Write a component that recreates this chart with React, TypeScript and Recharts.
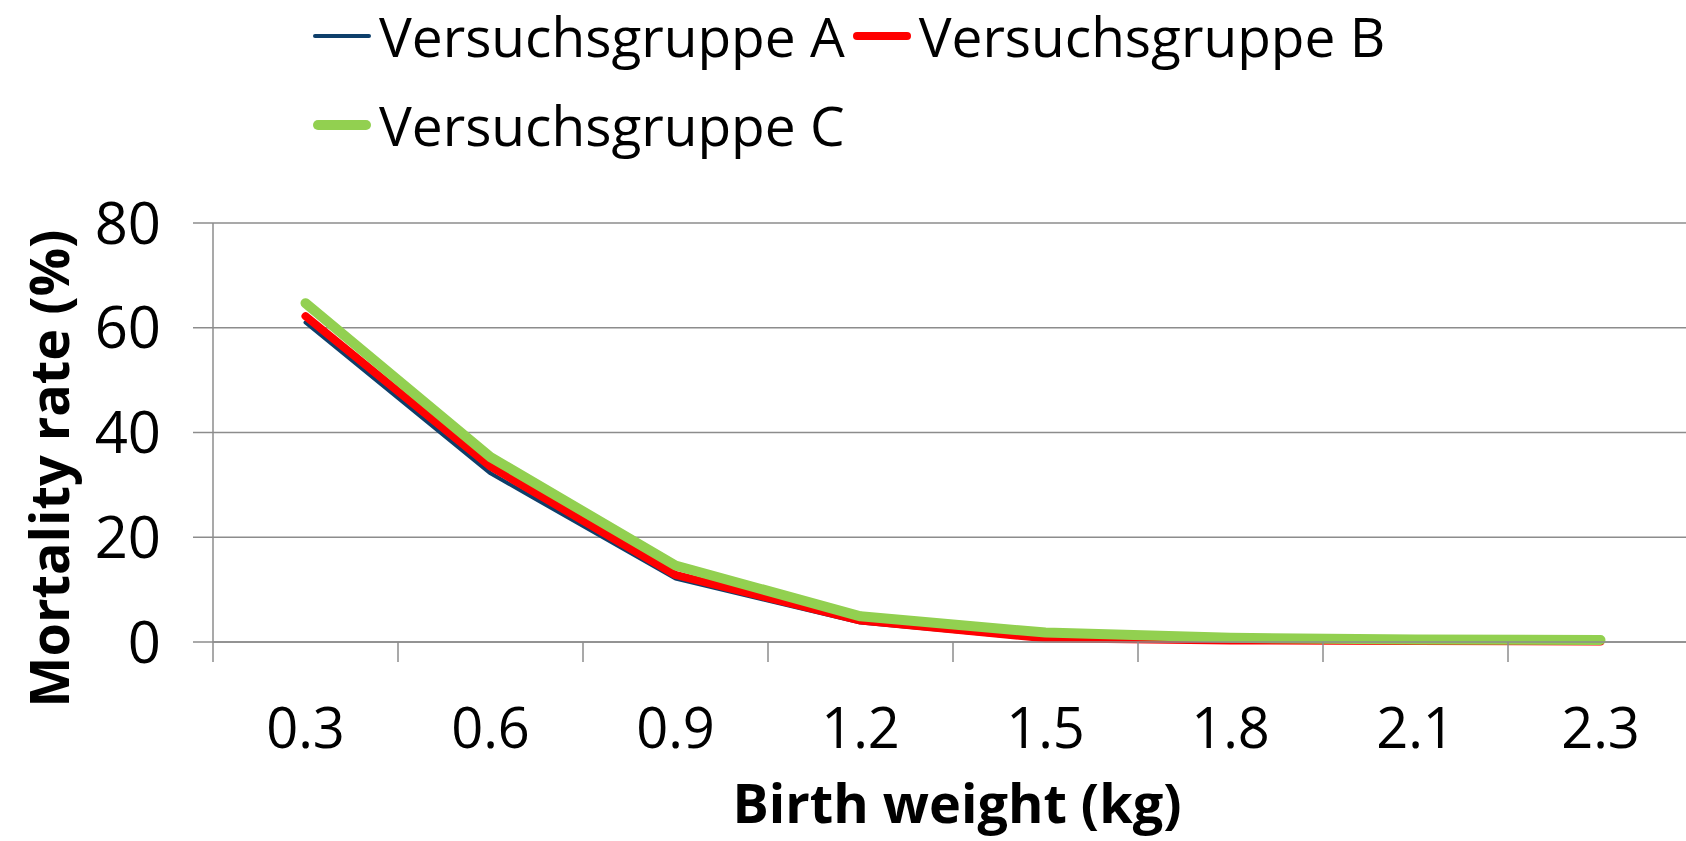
import { LineChart, Line, XAxis, YAxis, CartesianGrid, Legend, Label } from "recharts"

const weights = ["0.3", "0.6", "0.9", "1.2", "1.5", "1.8", "2.1", "2.3"]
const groupA = [61, 32.2, 12.1, 3.7, 0.5, 0.2, 0.1, 0.1]
const groupB = [62.2, 33.5, 12.8, 4.1, 0.7, 0.3, 0.2, 0.1]
const groupC = [64.7, 35.3, 14.6, 4.9, 1.8, 0.8, 0.5, 0.4]
const yTicks = [0, 20, 40, 60, 80]

const SERIES = [
  { key: "a", name: "Versuchsgruppe A", color: "#0e3f6b", width: 4 },
  { key: "b", name: "Versuchsgruppe B", color: "#ff0000", width: 8 },
  { key: "c", name: "Versuchsgruppe C", color: "#92d050", width: 10 },
]

const data = weights.map((w, i) => ({
  idx: i + 0.5,
  label: w,
  a: groupA[i],
  b: groupB[i],
  c: groupC[i],
}))

const W = 1686
const H = 841
const MARGIN = { top: 223, right: -7, left: 0, bottom: 0 }
const Y_AXIS_W = 213
const PLOT_W = W - MARGIN.left - MARGIN.right - Y_AXIS_W
const HALF_CAT = PLOT_W / weights.length / 2
const FONT = "'Open Sans', sans-serif"
const GRID = "#8c8c8c"

function XTick({ x, y, index }: any) {
  if (index >= weights.length) return null
  return (
    <text x={x + HALF_CAT} y={y + 62} textAnchor="middle" dominantBaseline="central" fontSize={56} fontFamily={FONT} fill="#000">
      {weights[index]}
    </text>
  )
}

function LegendContent() {
  return (
    <div style={{ display: "flex", flexWrap: "wrap", width: 1150, fontFamily: FONT, fontSize: 55, lineHeight: "89px" }}>
      {SERIES.map((s) => (
        <div key={s.key} style={{ display: "flex", alignItems: "center", marginRight: 6 }}>
          <svg width={62} height={20} style={{ marginRight: 6 }}>
            <line x1={s.width / 2 + 2} y1={10} x2={60 - s.width / 2} y2={10} stroke={s.color} strokeWidth={s.width} strokeLinecap="round" />
          </svg>
          <span style={{ color: "#000" }}>{s.name}</span>
        </div>
      ))}
    </div>
  )
}

export default function App() {
  return (
    <div style={{ position: "fixed", top: 0, left: 0, background: "#fff" }}>
      <LineChart width={W} height={H} data={data} margin={MARGIN}>
        <CartesianGrid vertical={false} stroke={GRID} strokeWidth={1.5} />
        <XAxis
          dataKey="idx"
          type="number"
          domain={[0, weights.length]}
          ticks={weights.map((_, i) => i).concat(weights.length)}
          interval={0}
          height={199}
          stroke={GRID}
          strokeWidth={1.5}
          tickSize={20}
          tick={<XTick />}
        >
          <Label
            content={({ viewBox }: any) => (
              <text x={viewBox.x + viewBox.width / 2 + 4} y={viewBox.y + 160} textAnchor="middle" dominantBaseline="central" fontSize={54} fontWeight="bold" fontFamily={FONT} fill="#000">
                Birth weight (kg)
              </text>
            )}
          />
        </XAxis>
        <YAxis
          domain={[0, 80]}
          ticks={yTicks}
          width={Y_AXIS_W}
          stroke={GRID}
          strokeWidth={1.5}
          tickSize={20}
          tickMargin={32}
          tick={{ fontSize: 58, fontFamily: FONT, fill: "#000" }}
        >
          <Label
            content={({ viewBox }: any) => {
              const cx = 48
              const cy = viewBox.y + viewBox.height / 2 + 36
              return (
                <text x={cx} y={cy} transform={`rotate(-90 ${cx} ${cy})`} textAnchor="middle" dominantBaseline="central" fontSize={54} fontWeight="bold" fontFamily={FONT} fill="#000">
                  Mortality rate (%)
                </text>
              )
            }}
          />
        </YAxis>
        <Legend
          layout="horizontal"
          verticalAlign="middle"
          align="center"
          content={<LegendContent />}
          wrapperStyle={{ top: -9, left: 311, width: 1150 }}
        />
        {SERIES.map((s) => (
          <Line
            key={s.key}
            dataKey={s.key}
            name={s.name}
            stroke={s.color}
            strokeWidth={s.width}
            strokeLinecap="round"
            strokeLinejoin="round"
            dot={false}
            activeDot={false}
            type="linear"
            isAnimationActive={false}
          />
        ))}
      </LineChart>
    </div>
  )
}
